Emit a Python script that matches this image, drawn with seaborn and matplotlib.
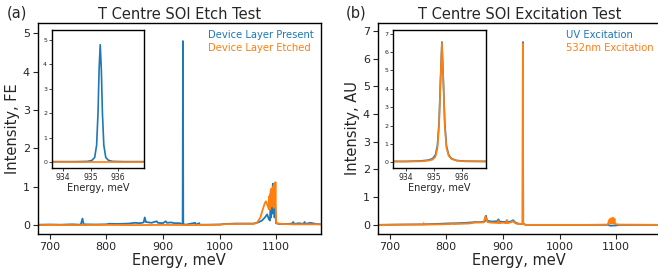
import numpy as np
import pandas as pd
import matplotlib
matplotlib.use("Agg")
import matplotlib.pyplot as plt
import seaborn as sns
from matplotlib.lines import Line2D

# ---------------- data ----------------
# Panel (a): T Centre SOI Etch Test
a_present_E = [680, 700, 720, 740, 755, 758, 760, 780, 800, 805, 820, 840, 850, 860, 866, 868, 870,
               880, 889, 891, 900, 905, 907, 915, 920, 930, 933, 934.8, 935.35, 935.9, 940, 957, 958,
               964, 965, 980, 1000, 1010, 1030, 1050, 1060, 1068, 1075, 1080, 1084, 1087, 1089, 1090,
               1091, 1092, 1093, 1094, 1095, 1096, 1097, 1098, 1099.5, 1105, 1120, 1128, 1130, 1132,
               1140, 1148, 1150, 1152, 1160, 1170, 1178]
a_present_I = [0.01, 0.015, 0.01, 0.02, 0.01, 0.17, 0.02, 0.015, 0.02, 0.035, 0.03, 0.04, 0.06, 0.05,
               0.07, 0.2, 0.08, 0.06, 0.1, 0.06, 0.05, 0.1, 0.06, 0.07, 0.05, 0.05, 0.03, 0.03, 4.8,
               0.03, 0.01, 0.06, 0.01, 0.05, 0.01, 0.01, 0.015, 0.03, 0.04, 0.04, 0.04, 0.07, 0.12,
               0.2, 0.28, 0.15, 0.12, 0.7, 0.2, 0.9, 0.3, 1.08, 0.4, 0.95, 0.2, 0.6, 0.05, 0.03, 0.03,
               0.04, 0.08, 0.03, 0.05, 0.03, 0.08, 0.03, 0.06, 0.03, 0.02]
a_etched_E = [680, 700, 750, 800, 850, 900, 950, 1000, 1010, 1040, 1060, 1066, 1072, 1076, 1080, 1082,
              1085, 1087, 1087.7, 1088.3, 1089, 1089.6, 1090.2, 1090.8, 1091.4, 1092, 1092.6, 1093.2,
              1093.8, 1094.4, 1095, 1095.6, 1096.2, 1096.8, 1097.4, 1098, 1098.6, 1099.2, 1100, 1110,
              1130, 1178]
a_etched_I = [0.0, 0.005, 0.0, 0.005, 0.0, 0.005, 0.0, 0.01, 0.025, 0.03, 0.03, 0.06, 0.2, 0.4, 0.58,
              0.62, 0.5, 0.42, 0.75, 0.4, 0.8, 0.45, 0.88, 0.5, 0.95, 0.55, 0.9, 0.5, 1.0, 0.6, 0.95,
              0.45, 1.05, 0.5, 1.1, 0.6, 1.12, 0.4, 0.05, 0.03, 0.02, 0.02]
a_in_present_E = [933.5, 934.0, 934.5, 934.9, 935.05, 935.15, 935.22, 935.27, 935.31, 935.35, 935.39,
                  935.43, 935.48, 935.55, 935.65, 935.8, 936.2, 936.95]
a_in_present_I = [0.03, 0.03, 0.03, 0.04, 0.08, 0.2, 0.7, 2.0, 3.8, 4.8, 3.8, 2.0, 0.7, 0.2, 0.08,
                  0.04, 0.03, 0.03]
a_in_etched_E = [933.5, 934.5, 935.5, 936.95]
a_in_etched_I = [0.0, 0.0, 0.0, 0.0]

# Panel (b): T Centre SOI Excitation Test
b_uv_E = [680, 720, 760, 790, 800, 820, 840, 850, 860, 868, 870, 872, 880, 890, 892, 894, 905, 907,
          909, 915, 918, 921, 926, 932, 934.8, 935.28, 935.8, 940, 980, 1050, 1085, 1090, 1100,
          1105, 1178]
b_uv_I = [0.0, 0.01, 0.02, 0.04, 0.05, 0.06, 0.08, 0.1, 0.1, 0.12, 0.33, 0.15, 0.12, 0.13, 0.2, 0.12,
          0.1, 0.17, 0.1, 0.13, 0.17, 0.1, 0.05, 0.03, 0.05, 6.6, 0.05, 0.0, 0.0, 0.0, 0.0, -0.03,
          -0.02, 0.0, 0.0]
b_532_E = [680, 720, 759, 760, 761, 790, 808, 810, 812, 840, 850, 866, 869, 871, 873, 880, 891, 892,
           893, 900, 906, 907, 908, 915, 918, 921, 926, 934.8, 935.28, 935.8, 940, 1050, 1085, 1088,
           1089, 1091, 1092, 1094, 1095, 1097, 1098, 1105, 1178]
b_532_I = [0.0, 0.01, 0.01, 0.06, 0.01, 0.02, 0.03, 0.06, 0.03, 0.05, 0.08, 0.09, 0.3, 0.2, 0.1, 0.08,
           0.07, 0.15, 0.06, 0.08, 0.06, 0.16, 0.06, 0.1, 0.13, 0.07, 0.03, 0.04, 6.55, 0.04, 0.0,
           0.0, 0.01, 0.2, 0.05, 0.24, 0.05, 0.26, 0.05, 0.22, 0.03, 0.01, 0.0]
b_in_uv_E = [933.5, 934.0, 934.5, 934.8, 934.95, 935.05, 935.12, 935.18, 935.23, 935.28, 935.33,
             935.38, 935.44, 935.52, 935.62, 935.8, 936.1, 936.9]
b_in_uv_I = [0.05, 0.05, 0.07, 0.12, 0.2, 0.4, 0.9, 2.2, 4.5, 6.55, 4.5, 2.2, 0.9, 0.4, 0.2, 0.1,
             0.06, 0.05]
b_in_532_E = [933.5, 934.0, 934.5, 934.8, 934.95, 935.05, 935.12, 935.18, 935.23, 935.28, 935.33,
              935.38, 935.44, 935.52, 935.62, 935.8, 936.1, 936.9]
b_in_532_I = [0.04, 0.04, 0.05, 0.09, 0.15, 0.3, 0.75, 2.0, 4.4, 6.5, 4.4, 2.0, 0.8, 0.35, 0.18,
              0.09, 0.05, 0.04]

titles = ["T Centre SOI Etch Test", "T Centre SOI Excitation Test"]
ylabels = ["Intensity, FE", "Intensity, AU"]
panel_tags = ["(a)", "(b)"]
labels_a = ["Device Layer Present", "Device Layer Etched"]
labels_b = ["UV Excitation", "532nm Excitation"]

# ---------------- style ----------------
sns.set_style("ticks")
plt.rcParams["font.family"] = ["DejaVu Sans"]
plt.rcParams["axes.edgecolor"] = "black"
plt.rcParams["axes.linewidth"] = 1.0

blue = "#1f77b4"
orange = "#ff7f0e"
W, H = 658, 270
fig = plt.figure(figsize=(W / 100, H / 100), dpi=100)


def fx(px):
    return px / W


def fy(py):
    return 1 - py / H


ax_a = fig.add_axes([fx(37.7), fy(234.3), fx(321 - 37.7), (234.3 - 22.7) / H])
ax_b = fig.add_axes([fx(377.7), fy(234.3), fx(321 - 37.7), (234.3 - 22.7) / H])
in_a = fig.add_axes([fx(52), fy(168), fx(92), (168 - 30) / H])
in_b = fig.add_axes([fx(393.3), fy(168), fx(92.7), (168 - 30) / H])


def draw(ax, E, I, color, lw=1.3):
    df = pd.DataFrame({"E": E, "I": I})
    sns.lineplot(data=df, x="E", y="I", ax=ax, color=color, linewidth=lw,
                 estimator=None, sort=False, legend=False)


draw(ax_a, a_present_E, a_present_I, blue)
draw(ax_a, a_etched_E, a_etched_I, orange)
draw(ax_b, b_uv_E, b_uv_I, blue)
draw(ax_b, b_532_E, b_532_I, orange)
draw(in_a, a_in_present_E, a_in_present_I, blue, 1.2)
draw(in_a, a_in_etched_E, a_in_etched_I, orange, 1.2)
draw(in_b, b_in_uv_E, b_in_uv_I, blue, 1.2)
draw(in_b, b_in_532_E, b_in_532_I, orange, 1.2)

for ax, t, yl, ylim in [(ax_a, titles[0], ylabels[0], (-0.24, 5.28)),
                         (ax_b, titles[1], ylabels[1], (-0.34, 7.3))]:
    ax.set_xlim(679, 1179)
    ax.set_ylim(*ylim)
    ax.set_xticks([700, 800, 900, 1000, 1100])
    ax.set_title(t, fontsize=10.5, pad=3)
    ax.set_xlabel("Energy, meV", fontsize=10.5, labelpad=1)
    ax.set_ylabel(yl, fontsize=10.5, labelpad=2)
    ax.tick_params(labelsize=8, length=3.5, width=0.8, pad=2)
    for s in ax.spines.values():
        s.set_visible(True)
        s.set_color("black")

ax_a.set_yticks([0, 1, 2, 3, 4, 5])
ax_b.set_yticks([0, 1, 2, 3, 4, 5, 6, 7])

for ax, ylim, yt in [(in_a, (-0.23, 5.4), [0, 1, 2, 3, 4, 5]),
                     (in_b, (-0.31, 7.2), [0, 1, 2, 3, 4, 5, 6, 7])]:
    ax.set_ylim(*ylim)
    ax.set_xticks([934, 935, 936])
    ax.set_yticks(yt)
    ax.set_ylabel("")
    ax.set_xlabel("Energy, meV", fontsize=7, labelpad=1)
    ax.tick_params(axis="x", labelsize=5.5, length=2, width=0.6, pad=1.5)
    ax.tick_params(axis="y", labelsize=4.5, length=2, width=0.6, pad=1.5)
    for s in ax.spines.values():
        s.set_visible(True)
        s.set_color("black")
in_a.set_xlim(933.61, 936.93)
in_b.set_xlim(933.56, 936.84)

for ax, labs in [(ax_a, labels_a), (ax_b, labels_b)]:
    handles = [Line2D([], [], color=blue), Line2D([], [], color=orange)]
    ax.legend(handles, labs, loc="upper right", frameon=False, handlelength=0,
              handletextpad=0, labelcolor="linecolor", fontsize=7.2,
              borderaxespad=0.3, labelspacing=0.3)

fig.text(fx(7), fy(13), panel_tags[0], fontsize=10.5, va="center", ha="left")
fig.text(fx(346), fy(13), panel_tags[1], fontsize=10.5, va="center", ha="left")

fig.savefig("out.png", dpi=100)
